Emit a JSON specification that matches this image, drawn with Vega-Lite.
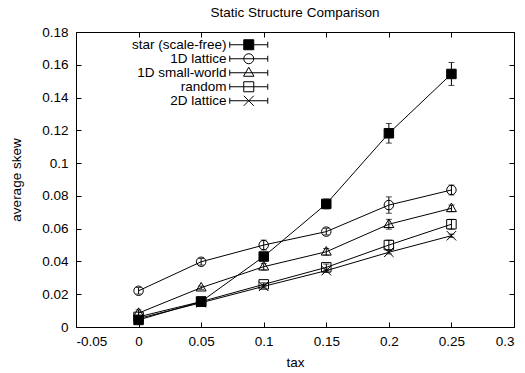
{
  "$schema": "https://vega.github.io/schema/vega-lite/v6.json",
  "width": 438,
  "height": 295,
  "autosize": {"type": "none"},
  "padding": {"left": 76, "top": 32, "right": 11, "bottom": 46},
  "background": "white",
  "title": {"text": "Static Structure Comparison", "font": "Liberation Sans", "fontSize": 13.5, "fontWeight": "normal", "color": "black", "anchor": "middle", "offset": 6},
  "config": {
    "view": {"stroke": "black", "strokeWidth": 1},
    "axis": {
      "domain": false, "grid": false, "ticks": true, "tickSize": -5, "tickColor": "black", "tickWidth": 1,
      "labelFont": "Liberation Sans", "labelFontSize": 13.5, "labelColor": "black",
      "titleFont": "Liberation Sans", "titleFontSize": 13.5, "titleFontWeight": "normal", "titleColor": "black"
    },
    "legend": {"labelFont": "Liberation Sans", "labelFontSize": 13.5, "labelColor": "black"}
  },
  "data": {
    "values": [
      {"series": "star (scale-free)", "tax": 0, "skew": 0.0043, "lo": 0.0033, "hi": 0.0053},
      {"series": "star (scale-free)", "tax": 0.05, "skew": 0.0155, "lo": 0.0145, "hi": 0.0165},
      {"series": "star (scale-free)", "tax": 0.1, "skew": 0.043, "lo": 0.041, "hi": 0.045},
      {"series": "star (scale-free)", "tax": 0.15, "skew": 0.0751, "lo": 0.0721, "hi": 0.0781},
      {"series": "star (scale-free)", "tax": 0.2, "skew": 0.1182, "lo": 0.1122, "hi": 0.1242},
      {"series": "star (scale-free)", "tax": 0.25, "skew": 0.1544, "lo": 0.1474, "hi": 0.1614},
      {"series": "1D lattice", "tax": 0, "skew": 0.0221, "lo": 0.0201, "hi": 0.0241},
      {"series": "1D lattice", "tax": 0.05, "skew": 0.0398, "lo": 0.0378, "hi": 0.0418},
      {"series": "1D lattice", "tax": 0.1, "skew": 0.05, "lo": 0.047, "hi": 0.053},
      {"series": "1D lattice", "tax": 0.15, "skew": 0.0582, "lo": 0.0562, "hi": 0.0602},
      {"series": "1D lattice", "tax": 0.2, "skew": 0.0744, "lo": 0.0694, "hi": 0.0794},
      {"series": "1D lattice", "tax": 0.25, "skew": 0.0836, "lo": 0.0806, "hi": 0.0866},
      {"series": "1D small-world", "tax": 0, "skew": 0.0085, "lo": 0.0065, "hi": 0.0105},
      {"series": "1D small-world", "tax": 0.05, "skew": 0.024, "lo": 0.023, "hi": 0.025},
      {"series": "1D small-world", "tax": 0.1, "skew": 0.0368, "lo": 0.0348, "hi": 0.0388},
      {"series": "1D small-world", "tax": 0.15, "skew": 0.0459, "lo": 0.0439, "hi": 0.0479},
      {"series": "1D small-world", "tax": 0.2, "skew": 0.0627, "lo": 0.0597, "hi": 0.0657},
      {"series": "1D small-world", "tax": 0.25, "skew": 0.0724, "lo": 0.0704, "hi": 0.0744},
      {"series": "random", "tax": 0, "skew": 0.0062, "lo": 0.0052, "hi": 0.0072},
      {"series": "random", "tax": 0.05, "skew": 0.0155, "lo": 0.0145, "hi": 0.0165},
      {"series": "random", "tax": 0.1, "skew": 0.026, "lo": 0.025, "hi": 0.027},
      {"series": "random", "tax": 0.15, "skew": 0.0364, "lo": 0.0344, "hi": 0.0384},
      {"series": "random", "tax": 0.2, "skew": 0.05, "lo": 0.047, "hi": 0.053},
      {"series": "random", "tax": 0.25, "skew": 0.0627, "lo": 0.0597, "hi": 0.0657},
      {"series": "2D lattice", "tax": 0, "skew": 0.0052, "lo": 0.0042, "hi": 0.0062},
      {"series": "2D lattice", "tax": 0.05, "skew": 0.0148, "lo": 0.0138, "hi": 0.0158},
      {"series": "2D lattice", "tax": 0.1, "skew": 0.0248, "lo": 0.0238, "hi": 0.0258},
      {"series": "2D lattice", "tax": 0.15, "skew": 0.0344, "lo": 0.0334, "hi": 0.0354},
      {"series": "2D lattice", "tax": 0.2, "skew": 0.0456, "lo": 0.0446, "hi": 0.0466},
      {"series": "2D lattice", "tax": 0.25, "skew": 0.0557, "lo": 0.0547, "hi": 0.0567}
    ]
  },
  "layer": [
    {
      "mark": {"type": "line", "color": "black", "strokeWidth": 1},
      "encoding": {
        "x": {"field": "tax", "type": "quantitative", "title": "tax",
              "scale": {"domain": [-0.05, 0.3], "nice": false, "zero": false},
              "axis": {"orient": "bottom", "values": [-0.05, 0, 0.05, 0.1, 0.15, 0.2, 0.25, 0.3], "labelPadding": 12, "labelExpr": "replace(format(datum.value, '~g'), '\u2212', '-')", "titlePadding": 8}},
        "y": {"field": "skew", "type": "quantitative", "title": "average skew",
              "scale": {"domain": [0, 0.18], "nice": false},
              "axis": {"orient": "left", "values": [0, 0.02, 0.04, 0.06, 0.08, 0.1, 0.12, 0.14, 0.16, 0.18], "labelPadding": 13, "format": "~g", "titlePadding": 18}},
        "detail": {"field": "series", "type": "nominal"}
      }
    },
    {
      "mark": {"type": "errorbar", "ticks": true, "color": "black", "thickness": 1, "size": 6},
      "encoding": {
        "x": {"field": "tax", "type": "quantitative", "axis": null},
        "y": {"field": "lo", "type": "quantitative", "axis": null},
        "y2": {"field": "hi"}
      }
    },
    {
      "mark": {"type": "point", "filled": true, "size": 90, "stroke": "black", "strokeWidth": 1, "opacity": 1},
      "encoding": {
        "x": {"field": "tax", "type": "quantitative", "axis": {"orient": "top", "labels": false, "title": null, "values": [-0.05, 0, 0.05, 0.1, 0.15, 0.2, 0.25, 0.3]}},
        "y": {"field": "skew", "type": "quantitative", "axis": {"orient": "right", "labels": false, "title": null, "values": [0, 0.02, 0.04, 0.06, 0.08, 0.1, 0.12, 0.14, 0.16, 0.18]}},
        "shape": {"field": "series", "type": "nominal", "legend": null,
                  "scale": {"domain": ["star (scale-free)", "1D lattice", "1D small-world", "random", "2D lattice"],
                            "range": ["M-1,-1H1V1H-1Z", "M1,0A1,1,0,1,1,-1,0A1,1,0,1,1,1,0Z", "M0,-1.1L1.05,0.7L-1.05,0.7Z", "M-1,-1H1V1H-1Z", "M-1,-1L1,1M-1,1L1,-1"]}},
        "fill": {"field": "series", "type": "nominal", "legend": null,
                 "scale": {"domain": ["star (scale-free)", "1D lattice", "1D small-world", "random", "2D lattice"],
                           "range": ["black", "transparent", "transparent", "transparent", "transparent"]}}
      }
    },
    {
      "mark": {"type": "point", "filled": true, "size": 90, "stroke": "black", "strokeWidth": 1, "opacity": 0},
      "encoding": {
        "x": {"field": "tax", "type": "quantitative", "axis": null},
        "y": {"field": "skew", "type": "quantitative", "axis": null},
        "shape": {"field": "series", "type": "nominal",
                  "scale": {"domain": ["star (scale-free)", "1D lattice", "1D small-world", "random", "2D lattice"],
                            "range": [
                              "M-3.8,0H3.8M-3.8,-0.6V0.6M3.8,-0.6V0.6M-1,-1H1V1H-1Z",
                              "M-3.8,0H3.8M-3.8,-0.6V0.6M3.8,-0.6V0.6M1,0A1,1,0,1,1,-1,0A1,1,0,1,1,1,0Z",
                              "M-3.8,0H3.8M-3.8,-0.6V0.6M3.8,-0.6V0.6M0,-1.1L1.05,0.7L-1.05,0.7Z",
                              "M-3.8,0H3.8M-3.8,-0.6V0.6M3.8,-0.6V0.6M-1,-1H1V1H-1Z",
                              "M-3.8,0H3.8M-3.8,-0.6V0.6M3.8,-0.6V0.6M-1,-1L1,1M-1,1L1,-1"]},
                  "legend": {"title": null, "orient": "none", "legendX": 166, "legendY": 6, "padding": 0,
                             "symbolSize": 100, "symbolOpacity": 1, "symbolStrokeColor": "black", "symbolStrokeWidth": 1,
                             "labelAlign": "right", "labelOffset": -29, "rowPadding": -3, "labelLimit": 300,
                             "encode": {"symbols": {"update": {"stroke": {"value": "black"}, "strokeWidth": {"value": 1}, "opacity": {"value": 1}, "strokeOpacity": {"value": 1}}}}}},
        "fill": {"field": "series", "type": "nominal",
                 "scale": {"domain": ["star (scale-free)", "1D lattice", "1D small-world", "random", "2D lattice"],
                           "range": ["black", "transparent", "transparent", "transparent", "transparent"]},
                 "legend": {"title": null, "orient": "none", "legendX": 166, "legendY": 6, "padding": 0,
                            "symbolSize": 100, "symbolOpacity": 1, "symbolStrokeColor": "black", "symbolStrokeWidth": 1,
                            "labelAlign": "right", "labelOffset": -29, "rowPadding": -3, "labelLimit": 300,
                            "encode": {"symbols": {"update": {"stroke": {"value": "black"}, "strokeWidth": {"value": 1}, "opacity": {"value": 1}, "strokeOpacity": {"value": 1}}}}}}
      }
    }
  ],
  "resolve": {
    "scale": {"shape": "independent", "fill": "independent"},
    "legend": {"shape": "independent", "fill": "independent"},
    "axis": {"x": "independent", "y": "independent"}
  }
}
